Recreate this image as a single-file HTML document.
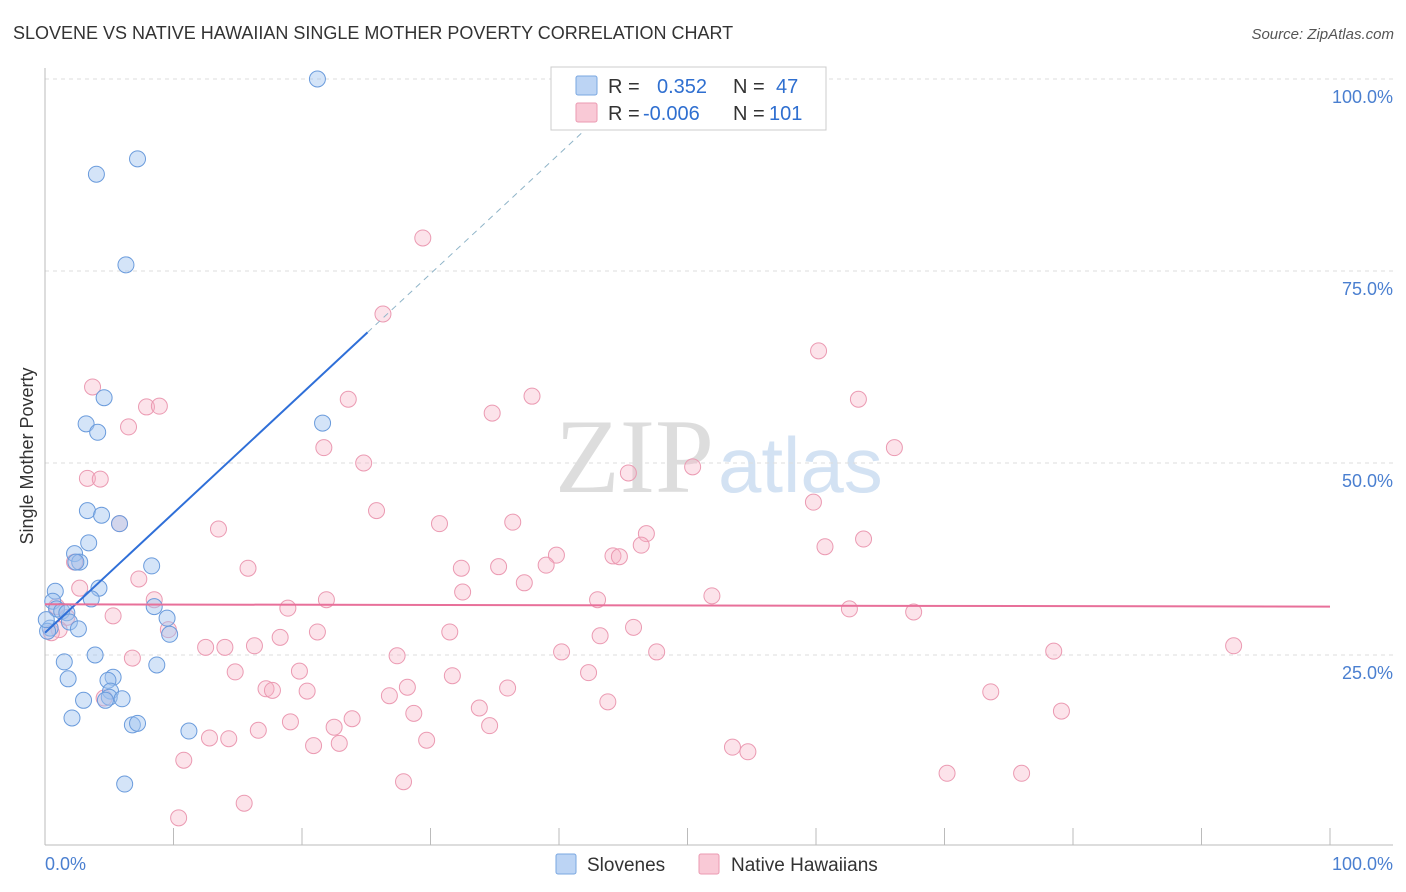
<!DOCTYPE html>
<html><head><meta charset="utf-8"><style>
body{margin:0;background:#fff;font-family:"Liberation Sans",sans-serif}
svg{display:block}
</style></head><body>
<svg id="chart" width="1406" height="892">
<text x="13" y="39" font-size="18" fill="#333">SLOVENE VS NATIVE HAWAIIAN SINGLE MOTHER POVERTY CORRELATION CHART</text>
<text x="1394" y="39" font-size="15" fill="#555" text-anchor="end" font-style="italic">Source: ZipAtlas.com</text>
<text x="33" y="456" font-size="18" fill="#333" text-anchor="middle" transform="rotate(-90 33 456)">Single Mother Poverty</text>
<text x="714" y="492" font-size="106" fill="#ddd" text-anchor="end" font-family="Liberation Serif">ZIP</text>
<text x="718" y="492" font-size="78" fill="#d3e2f3">atlas</text>
<g id="grid"></g><g id="axes"></g><g id="pts"></g><g id="lines"></g>
<g>
<rect x="551" y="67" width="275" height="63" fill="#fff" stroke="#ccc"/>
<rect x="576" y="76" width="21" height="19" fill="#bcd4f4" stroke="#7aa7e0" rx="2"/>
<rect x="576" y="103" width="21" height="19" fill="#f9c9d6" stroke="#eb9ab2" rx="2"/>
<text x="608" y="93" font-size="20" fill="#333">R = </text><text x="657" y="93" font-size="20" fill="#2f6fd0">0.352</text>
<text x="733" y="93" font-size="20" fill="#333">N = </text><text x="776" y="93" font-size="20" fill="#2f6fd0">47</text>
<text x="608" y="120" font-size="20" fill="#333">R = </text><text x="643" y="120" font-size="20" fill="#2f6fd0">-0.006</text>
<text x="733" y="120" font-size="20" fill="#333">N = </text><text x="769" y="120" font-size="20" fill="#2f6fd0">101</text>
</g>
<g>
<rect x="556" y="854" width="20" height="20" fill="#bcd4f4" stroke="#7aa7e0" rx="2"/>
<text x="587" y="871" font-size="19" fill="#333">Slovenes</text>
<rect x="699" y="854" width="20" height="20" fill="#f9c9d6" stroke="#eb9ab2" rx="2"/>
<text x="731" y="871" font-size="19" fill="#333">Native Hawaiians</text>
</g>
<text x="45" y="870" font-size="18" fill="#4a7fd0">0.0%</text>
<text x="1393" y="870" font-size="18" fill="#4a7fd0" text-anchor="end">100.0%</text>
</svg>
<script>
const yTicks=[25,50,75,100];
const yTickLabels=["25.0%","50.0%","75.0%","100.0%"];
const blueX=[21.2,7.2,4.0,6.3,21.6,4.6,3.2,4.1,3.3,4.4,5.8,3.4,2.3,2.7,2.4,8.3,4.2,3.6,0.8,0.6,0.9,1.3,1.7,8.5,9.5,9.7,1.9,2.6,0.4,0.2,3.9,1.5,8.7,5.3,4.9,1.8,5.1,5.0,3.0,4.7,6.0,2.1,6.8,7.2,11.2,6.2,0.1];
const blueY=[100,89.6,87.6,75.8,55.2,58.5,55.1,54.0,43.8,43.2,42.1,39.6,38.2,37.1,37.1,36.6,33.7,32.3,33.3,32.0,31.0,30.7,30.5,31.3,29.8,27.7,29.3,28.4,28.5,28.1,25.0,24.1,23.7,22.1,21.7,21.9,20.3,19.5,19.1,19.1,19.3,16.8,15.9,16.1,15.1,8.2,29.6];
const pinkX=[29.4,26.3,60.2,3.7,37.9,23.6,63.3,7.9,8.9,34.8,6.5,21.7,66.1,24.8,50.4,45.4,3.3,4.3,59.8,25.8,30.7,36.4,5.8,13.5,46.8,46.4,63.7,60.7,39.8,44.2,44.7,15.8,32.4,35.3,39.0,2.3,7.3,37.3,2.7,32.5,51.9,8.5,21.9,43.0,18.9,62.6,67.6,5.3,0.9,1.7,45.8,21.2,9.6,31.5,43.2,1.1,0.5,18.3,12.5,14.0,16.3,40.2,47.6,78.5,92.5,27.4,6.8,19.8,14.8,31.7,42.3,17.2,17.7,28.2,20.4,36.0,26.8,4.6,43.8,33.8,23.9,28.7,19.1,16.6,22.5,34.6,29.7,20.9,22.9,12.8,14.3,53.5,54.7,73.6,79.1,10.8,70.2,76.0,27.9,15.5,10.4];
const pinkY=[79.3,69.4,64.6,59.9,58.7,58.3,58.3,57.3,57.4,56.5,54.7,52.0,52.0,50.0,49.5,48.7,48.0,47.9,44.9,43.8,42.1,42.3,42.1,41.4,40.8,39.3,40.1,39.1,38.0,37.9,37.8,36.3,36.3,36.5,36.7,37.1,34.9,34.4,33.7,33.2,32.7,32.2,32.2,32.2,31.1,31.0,30.6,30.1,31.3,29.9,28.6,28.0,28.3,28.0,27.5,28.3,27.9,27.3,26.0,26.0,26.2,25.4,25.4,25.5,26.2,24.9,24.6,22.9,22.8,22.3,22.7,20.6,20.4,20.8,20.3,20.7,19.7,19.4,18.9,18.1,16.7,17.4,16.3,15.2,15.6,15.8,13.9,13.2,13.5,14.2,14.1,13.0,12.4,20.2,17.7,11.3,9.6,9.6,8.5,5.7,3.8];
const blueTrend=[27.9,1.558];
const pinkTrend=[31.6,-0.003];
const NS="http://www.w3.org/2000/svg";
const X=v=>45+12.85*v, Y=v=>847-7.68*v;
function mk(tag,attrs,parent){const e=document.createElementNS(NS,tag);for(const k in attrs)e.setAttribute(k,attrs[k]);document.getElementById(parent).appendChild(e);return e;}
yTicks.forEach((t,i)=>{
 const g=mk('line',{x1:45,x2:1393,y1:Y(t),y2:Y(t),stroke:'#ddd','stroke-dasharray':'4,4'},'grid');
 
 
 const l=mk('text',{x:1393,y:Y(t)+24,'font-size':18,fill:'#4a7fd0','text-anchor':'end'},'grid');
 l.textContent=yTickLabels[i];
 
 
});
const ax=mk('line',{x1:45,x2:45,y1:68,y2:845,stroke:'#bbb'},'axes');


const bx=mk('line',{x1:45,x2:1393,y1:845,y2:845,stroke:'#bbb'},'axes');


for(let t=0;t<=100;t+=10){
 const tk=mk('line',{x1:X(t),x2:X(t),y1:828,y2:845,stroke:'#bbb'},'axes');
 
 
}
pinkX.forEach((x,i)=>{
 const c=mk('circle',{cx:X(x),cy:Y(pinkY[i]),r:8,fill:'rgba(246,176,196,0.35)',stroke:'#eb9ab2','stroke-width':1},'pts');
 
 
});
blueX.forEach((x,i)=>{
 const c=mk('circle',{cx:X(x),cy:Y(blueY[i]),r:8,fill:'rgba(160,195,240,0.45)',stroke:'#6a9bdc','stroke-width':1},'pts');
 
 
});
const bl=mk('line',{x1:X(0),y1:Y(blueTrend[0]),x2:X(25.1),y2:Y(blueTrend[0]+blueTrend[1]*25.1),stroke:'#2f6fd8','stroke-width':2},'lines');


const bd=mk('line',{x1:X(25.1),y1:Y(blueTrend[0]+blueTrend[1]*25.1),x2:X(43.5),y2:Y(blueTrend[0]+blueTrend[1]*43.5),stroke:'#8fb4c8','stroke-width':1,'stroke-dasharray':'6,5'},'lines');


const pl=mk('line',{x1:X(0),y1:Y(pinkTrend[0]),x2:X(100),y2:Y(pinkTrend[0]+pinkTrend[1]*100),stroke:'#e8709a','stroke-width':2},'lines');


</script>
</body></html>
